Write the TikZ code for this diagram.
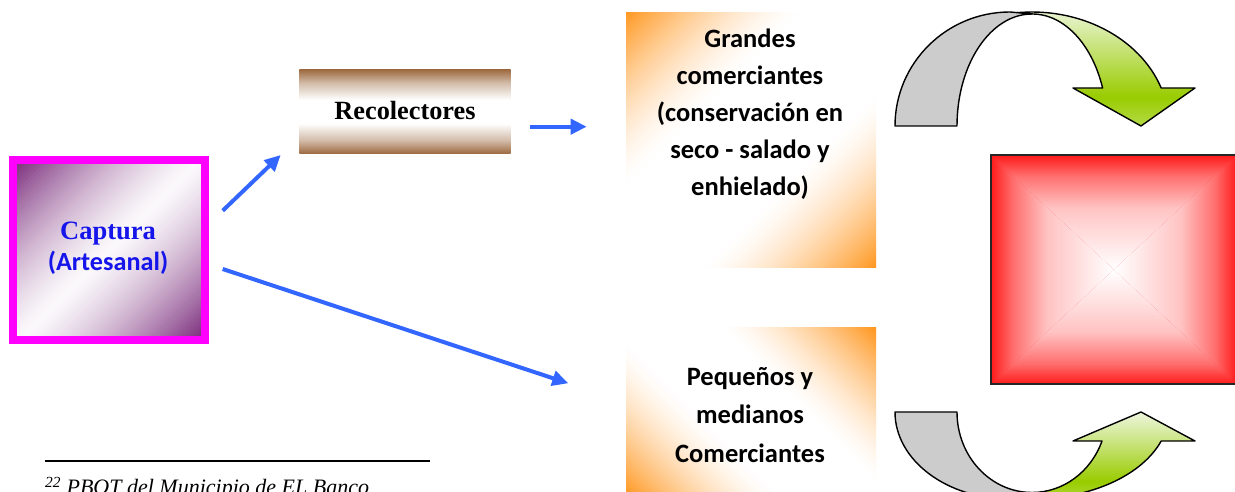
\documentclass[tikz,border=0pt]{standalone}
\usepackage{fontspec}
\setmainfont{Liberation Serif}
\newfontfamily\calib{Carlito}
\usetikzlibrary{arrows.meta,calc}
\definecolor{purp}{RGB}{118,38,120}
\definecolor{mag}{RGB}{255,0,255}
\definecolor{brownc}{RGB}{156,104,62}
\definecolor{orangec}{RGB}{255,150,30}
\definecolor{arrblue}{RGB}{51,102,255}
\definecolor{capblue}{RGB}{20,20,235}
\definecolor{redc}{RGB}{255,25,25}
\definecolor{redm}{RGB}{255,110,110}
\definecolor{redl}{RGB}{255,195,195}
\definecolor{grayc}{RGB}{204,204,204}
\definecolor{greenc}{RGB}{153,204,0}
\definecolor{greenl}{RGB}{238,246,222}
\definecolor{greent}{RGB}{180,218,70}
\colorlet{brownmid}{brownc!45!white}
\pgfdeclareverticalshading{brownband}{100bp}{color(0bp)=(brownc); color(25bp)=(brownc); color(33bp)=(brownmid); color(43bp)=(white); color(57bp)=(white); color(67bp)=(brownmid); color(75bp)=(brownc); color(100bp)=(brownc)}
\pgfdeclareverticalshading{redpyr}{100bp}{color(0bp)=(white); color(25bp)=(white); color(52bp)=(redl); color(66bp)=(redm); color(75bp)=(redc); color(100bp)=(redc)}
\pgfdeclareverticalshading{greensh}{100bp}{color(0bp)=(greent); color(25bp)=(greent); color(37bp)=(greenc); color(75bp)=(greenl); color(100bp)=(greenl)}
% diagonal two-corner gradient drawn as thin strips:
% #1 node, #2 angle, #3 colour, #4 half-diagonal, #5 fade length
\newcommand{\diagfade}[5]{%
  \begin{scope}
    \clip (#1.south west) rectangle (#1.north east);
    \begin{scope}[shift={(#1.center)}, rotate=#2]
      \pgfmathsetmacro\lo{-#4-3}
      \pgfmathsetmacro\nx{-#4}
      \foreach \ta in {\lo,\nx,...,#4} {
        \pgfmathsetmacro\dd{#4-abs(\ta+1.5)}
        \pgfmathsetmacro\qq{min(1,max(0,1-\dd/#5))}
        \pgfmathsetmacro\pp{100*\qq*sqrt(\qq)}
        \fill[#3!\pp!white] (\ta,-220) rectangle (\ta+3.6,220);
      }
    \end{scope}
  \end{scope}}
\begin{document}
\begin{tikzpicture}[x=1pt,y=1pt,
  flow/.style={draw=arrblue, line width=4pt, -{Triangle[length=16pt,width=15pt]}},
  calt/.style={font=\calib\bfseries\fontsize{26.5}{30}\selectfont, inner sep=0pt, anchor=base},
  timt/.style={font=\bfseries\fontsize{26.3}{30}\selectfont, inner sep=0pt, anchor=base},
  plainbox/.style={inner sep=0pt, outer sep=0pt},
  curvy/.style={draw=black, line width=1.4pt, line join=round}]
\useasboundingbox (0,0) rectangle (1235,492);
\clip (0,0) rectangle (1235,492);

% ---- box frames (named nodes)
\node[plainbox, minimum width=192pt, minimum height=179.5pt] (cap) at (109,241.75) {};
\node[plainbox, minimum width=211.4pt, minimum height=84.7pt] (rec) at (405,380.35) {};
\node[plainbox, minimum width=250pt, minimum height=255.7pt] (gc) at (751,351.85) {};
\node[plainbox, minimum width=250pt, minimum height=169pt] (pm) at (751,80) {};

% ---- diagonal gradients
\diagfade{cap}{-45}{purp}{132}{145}
\draw[mag, line width=8pt] (cap.south west) rectangle (cap.north east);
\diagfade{gc}{-45}{orangec}{180}{125}
\diagfade{pm}{45}{orangec}{148}{110}
\shade[shading=brownband] (rec.south west) rectangle (rec.north east);

% ---- texts
\node[timt, font=\bfseries\fontsize{26.5}{30}\selectfont, text=capblue] (capt) at (108,252) {Captura};
\node[calt, font=\calib\bfseries\fontsize{26.2}{30}\selectfont, text=capblue] (capa) at (108,221.3) {(Artesanal)};
\node[timt] (rect) at (405,372) {Recolectores};
\node[calt] (g1) at (750,444.3) {Grandes};
\node[calt] (g2) at (750,407) {comerciantes};
\node[calt] (g3) at (750,370) {(conservación en};
\node[calt] (g4) at (750,333) {seco - salado y};
\node[calt] (g5) at (750,296) {enhielado)};
\node[calt] (p1) at (750,106.3) {Pequeños y};
\node[calt] (p2) at (750,68) {medianos};
\node[calt] (p3) at (750,29.3) {Comerciantes};

% ---- Red square
\coordinate (rtl) at (990.7,337);
\coordinate (rtr) at (1237,337);
\coordinate (rbr) at (1237,107.7);
\coordinate (rbl) at (990.7,107.7);
\coordinate (rc) at (1113.85,222.35);
\fill[redc] (rtl) rectangle (rbr);
\shade[shading=redpyr] (rtl)--(rtr)--(rc)--cycle;
\shade[shading=redpyr, shading angle=180] (rbl)--(rbr)--(rc)--cycle;
\shade[shading=redpyr, shading angle=90] (rtl)--(rbl)--(rc)--cycle;
\shade[shading=redpyr, shading angle=-90] (rtr)--(rbr)--(rc)--cycle;
\node[plainbox, draw=black!85, line width=2pt, minimum width=246.3pt, minimum height=229.3pt] (red) at (rc) {};

% ---- Top curved arrow
\path[curvy, shading=greensh, shade] (1015.1,479.1)
  arc[start angle=97.1, end angle=19.5, x radius=137, y radius=114]
  -- (1195,404) -- (1141,366) -- (1073,404) -- (1102.6,404)
  arc[start angle=19.8, end angle=90, x radius=75, y radius=112] -- cycle;
\path[curvy, fill=grayc] (895,366)
  arc[start angle=180, end angle=90, x radius=115, y radius=114]
  -- (1032,478)
  arc[start angle=90, end angle=180, x radius=75, y radius=112] -- cycle;

% ---- Bottom curved arrow
\path[curvy, shading=greensh, shade] (1015.1,-6.3)
  arc[start angle=262.9, end angle=340.5, x radius=137, y radius=87]
  -- (1195,51) -- (1141,80) -- (1073,51) -- (1102,51)
  arc[start angle=338.9, end angle=270, x radius=75, y radius=80.5] -- cycle;
\path[curvy, fill=grayc] (895,80)
  arc[start angle=180, end angle=270, x radius=115, y radius=87]
  -- (1032,-0.5)
  arc[start angle=270, end angle=180, x radius=75, y radius=80.5] -- cycle;

% ---- Connectors
\coordinate (a1s) at (222.7,281.3);
\coordinate (a1e) at (280.7,337);
\coordinate (a2s) at (530,365.3);
\coordinate (a2e) at (586.7,365.3);
\coordinate (a3s) at (222.7,223);
\coordinate (a3e) at (568.3,108.7);
\draw[flow] (a1s) -- (a1e);
\draw[flow] (a2s) -- (a2e);
\draw[flow] (a3s) -- (a3e);

% ---- Footnote
\coordinate (fl) at (45,31);
\coordinate (fr) at (430,31);
\draw[line width=1.6pt] (fl) -- (fr);
\node[anchor=base west, inner sep=0pt, font=\itshape\fontsize{22}{26}\selectfont] (fn) at (45,-3)
  {\textsuperscript{22} PBOT del Municipio de EL Banco};
\end{tikzpicture}
\end{document}
